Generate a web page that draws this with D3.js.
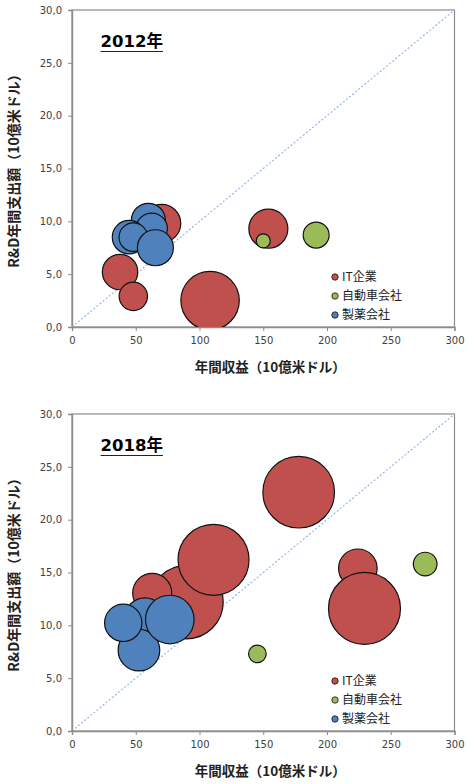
<!DOCTYPE html>
<html>
<head>
<meta charset="utf-8">
<script src="https://cdn.jsdelivr.net/npm/d3@7"></script>
<style>
  body { margin: 0; background: #fff; }
  svg { display: block; }
  .tick text { font-family: "DejaVu Sans", sans-serif; font-size: 10px; fill: #404040; }
</style>
</head>
<body>
<div id="chart"></div>
<script>
// sectors (legend order = draw order)
const sectors = ["IT企業", "自動車会社", "製薬会社"];
const years = ["2012年", "2018年"];

// 2012 : revenue, R&D, bubble size
const it2012Revenue = [37.7, 48.1, 108.3, 70.4, 154];
const it2012RD = [5.2, 2.9, 2.5, 9.8, 9.3];
const it2012Size = [22.9, 14.7, 62.3, 26.4, 27.8];
const auto2012Revenue = [150, 191.5];
const auto2012RD = [8.15, 8.7];
const auto2012Size = [3.6, 12.3];
const pharma2012Revenue = [59.9, 62.5, 44.7, 48.1, 65.4];
const pharma2012RD = [10.1, 9.3, 8.5, 8.5, 7.5];
const pharma2012Size = [21.1, 18, 20.4, 14.9, 23.7];

// 2018
const it2018Revenue = [177.8, 89.8, 111, 62.9, 224.2, 229.4];
const it2018RD = [22.6, 12.2, 16.2, 13.07, 15.4, 11.6];
const it2018Size = [93.6, 98.4, 92, 27.8, 27.2, 94.7];
const auto2018Revenue = [145.4, 277];
const auto2018RD = [7.3, 15.8];
const auto2018Size = [5.7, 10.2];
const pharma2018Revenue = [57.2, 52.5, 40.2, 76.7];
const pharma2018RD = [10.7, 7.65, 10.24, 10.55];
const pharma2018Size = [29.2, 31.6, 25.5, 43.1];

const xTicks = [0, 50, 100, 150, 200, 250, 300];
const yTicks = [0, 5, 10, 15, 20, 25, 30];
const xTitle = "年間収益（10億米ドル）";
const yTitle = "R&D年間支出額（10億米ドル）";

const colors = ["#C0504D", "#9BBB59", "#4F81BD"];

function series(rev, rd, size) {
  return rev.map((d, i) => ({ rev: d, rd: rd[i], size: size[i] }));
}
const charts = [
  [series(it2012Revenue, it2012RD, it2012Size), series(auto2012Revenue, auto2012RD, auto2012Size), series(pharma2012Revenue, pharma2012RD, pharma2012Size)],
  [series(it2018Revenue, it2018RD, it2018Size), series(auto2018Revenue, auto2018RD, auto2018Size), series(pharma2018Revenue, pharma2018RD, pharma2018Size)]
];

const W = 474, H = 784;
const svg = d3.select("#chart").append("svg").attr("width", W).attr("height", H);

const plotW = 382.5, plotH = 317;
const x = d3.scaleLinear().domain([0, 300]).range([0, plotW]);
const y = d3.scaleLinear().domain([0, 30]).range([plotH, 0]);
const r = d3.scaleSqrt().domain([0, 100]).range([0, 37]);
const tickFmt = d => d.toFixed(1).replace(".", ",");

charts.forEach((data, ci) => {
  const top = 10 + ci * 404;
  const g = svg.append("g").attr("transform", `translate(72,${top})`);

  g.append("clipPath").attr("id", "clip" + ci)
    .append("rect").attr("width", plotW).attr("height", plotH);

  // frame
  g.append("rect").attr("width", plotW).attr("height", plotH)
    .attr("fill", "none").attr("stroke", "#8c8c8c").attr("stroke-width", 1.2);

  // diagonal reference
  g.append("line")
    .attr("x1", x(0)).attr("y1", y(0)).attr("x2", x(300)).attr("y2", y(30))
    .attr("stroke", "#8DB3E2").attr("stroke-width", 1.1).attr("stroke-dasharray", "2,2");

  // axes
  const ya = g.append("g")
    .call(d3.axisLeft(y).tickValues(yTicks).tickFormat(tickFmt).tickSize(4).tickPadding(6));
  const xa = g.append("g").attr("transform", `translate(0,${plotH})`)
    .call(d3.axisBottom(x).tickValues(xTicks).tickSize(4).tickPadding(6));
  [ya, xa].forEach(a => {
    a.select(".domain").attr("stroke", "#8c8c8c").attr("stroke-width", 1.4);
    a.selectAll(".tick line").attr("stroke", "#8c8c8c");
  });

  // bubbles
  const bg = g.append("g").attr("clip-path", `url(#clip${ci})`);
  data.forEach((s, si) => {
    bg.selectAll(null).data(s).join("circle")
      .attr("cx", d => x(d.rev)).attr("cy", d => y(d.rd)).attr("r", d => r(d.size))
      .attr("fill", colors[si]).attr("stroke", "#111").attr("stroke-width", 1.2);
  });

  // year title with underline
  const t = g.append("text").attr("x", 28.5).attr("y", 36.5)
    .attr("font-family", "DejaVu Sans, Noto Sans CJK JP, sans-serif")
    .attr("font-size", 16.5).attr("font-weight", "bold").attr("fill", "#000")
    .text(years[ci]);
  const tw = t.node().getComputedTextLength();
  g.append("line").attr("x1", 28.5).attr("x2", 28.5 + tw).attr("y1", 41.5).attr("y2", 41.5)
    .attr("stroke", "#222").attr("stroke-width", 1.2);

  // legend
  const lg = g.append("g").attr("transform", `translate(${263},${267})`);
  sectors.forEach((name, i) => {
    lg.append("circle").attr("cx", 0).attr("cy", i * 19).attr("r", 3.2)
      .attr("fill", colors[i]).attr("stroke", "#111").attr("stroke-width", 0.8);
    lg.append("text").attr("x", 7).attr("y", i * 19).attr("dy", "0.36em")
      .attr("font-family", "Noto Sans CJK JP, sans-serif").attr("font-size", 12)
      .attr("fill", "#222").text(name);
  });

  // axis titles
  g.append("text").attr("x", plotW / 2 + 7).attr("y", plotH + 40).attr("dy", "0.36em")
    .attr("text-anchor", "middle")
    .attr("font-family", "Noto Sans CJK JP, sans-serif").attr("font-size", 13.5)
    .attr("font-weight", "bold").attr("fill", "#222").text(xTitle);
  g.append("text")
    .attr("transform", `translate(-58,${plotH / 2 - 1}) rotate(-90)`)
    .attr("dy", "0.36em").attr("text-anchor", "middle")
    .attr("font-family", "Noto Sans CJK JP, sans-serif").attr("font-size", 14)
    .attr("font-weight", "bold").attr("fill", "#222").text(yTitle);
});
</script>
</body>
</html>
